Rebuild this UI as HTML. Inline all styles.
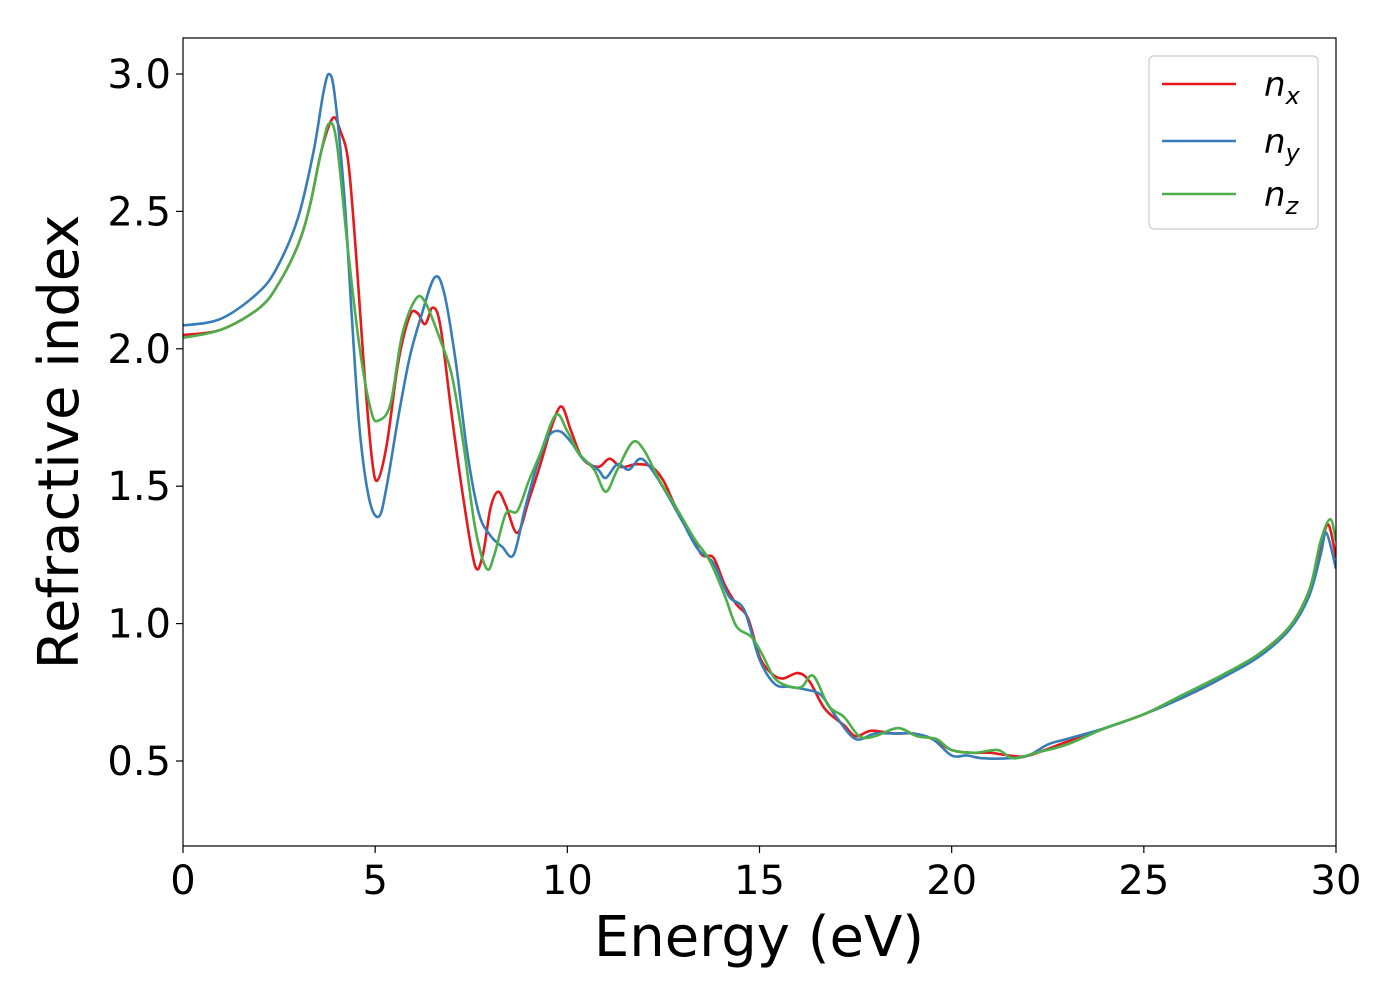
<!DOCTYPE html>
<html><head><meta charset="utf-8"><style>
body{margin:0;background:#fff;}
svg{display:block;font-family:"DejaVu Sans","Liberation Sans",sans-serif;}
</style></head><body>
<svg id="chart" width="1400" height="1000"></svg>
<script>
const seriesNames=["n_x","n_y","n_z"];
const colors=["#e41a1c","#377eb8","#4daf4a"];
const xTicks=[0,5,10,15,20,25,30];
const yTicks=[0.5,1.0,1.5,2.0,2.5,3.0];
const nxE=[0,1,2,2.5,3,3.3,3.6,3.9,4.1,4.3,4.5,4.7,4.9,5.05,5.3,5.6,5.9,6.1,6.3,6.5,6.7,7.0,7.3,7.6,7.8,8.0,8.2,8.4,8.7,9.0,9.3,9.6,9.85,10.1,10.4,10.8,11.1,11.4,11.8,12.2,12.5,12.8,13.2,13.5,13.8,14.1,14.4,14.7,15.0,15.3,15.6,16.0,16.3,16.7,17.2,17.5,17.9,18.5,19.0,19.5,20.0,20.5,21.0,21.5,22,23,24,25,26,27,28,28.8,29.3,29.6,29.8,30];
const nxV=[2.05,2.07,2.15,2.24,2.38,2.52,2.72,2.84,2.79,2.68,2.35,1.95,1.62,1.52,1.65,1.95,2.12,2.13,2.09,2.15,2.08,1.75,1.45,1.21,1.25,1.42,1.48,1.43,1.33,1.45,1.58,1.72,1.79,1.70,1.60,1.57,1.60,1.57,1.58,1.57,1.52,1.43,1.33,1.25,1.24,1.14,1.07,1.02,0.88,0.82,0.80,0.82,0.79,0.69,0.63,0.59,0.61,0.60,0.60,0.58,0.54,0.53,0.53,0.52,0.52,0.57,0.62,0.67,0.73,0.80,0.89,0.99,1.12,1.28,1.36,1.24];
const nyE=[0,1,2,2.5,3,3.4,3.65,3.8,3.95,4.2,4.4,4.6,4.85,5.1,5.3,5.6,5.9,6.2,6.55,6.8,7.1,7.4,7.7,8.0,8.3,8.6,8.9,9.2,9.5,9.8,10.1,10.4,10.8,11.0,11.3,11.6,11.9,12.2,12.6,13.0,13.4,13.8,14.2,14.6,15.0,15.4,15.8,16.2,16.6,17.0,17.5,18.0,18.5,19.0,19.5,20.0,20.4,20.8,21.5,22.0,22.5,23,24,25,26,27,28,28.8,29.3,29.6,29.75,30];
const nyV=[2.085,2.11,2.21,2.31,2.48,2.72,2.93,3.00,2.92,2.55,2.1,1.7,1.45,1.39,1.5,1.75,1.97,2.12,2.26,2.20,1.95,1.62,1.40,1.32,1.28,1.25,1.42,1.57,1.68,1.70,1.66,1.60,1.56,1.53,1.58,1.56,1.60,1.56,1.47,1.37,1.27,1.22,1.10,1.05,0.87,0.78,0.77,0.76,0.74,0.66,0.58,0.60,0.60,0.60,0.58,0.52,0.52,0.51,0.51,0.52,0.56,0.58,0.62,0.67,0.73,0.80,0.88,0.98,1.10,1.25,1.33,1.20];
const nzE=[0,1,2,2.5,3,3.3,3.6,3.8,4.0,4.3,4.6,4.9,5.1,5.4,5.7,6.05,6.3,6.7,7.0,7.3,7.6,7.9,8.1,8.4,8.7,9.0,9.3,9.7,10.0,10.3,10.7,11.0,11.3,11.7,12.0,12.4,12.8,13.3,13.7,14.1,14.4,14.8,15.1,15.4,15.8,16.1,16.4,16.8,17.2,17.6,18.0,18.6,19.1,19.6,20.0,20.6,21.2,21.6,22.2,23,24,25,26,27,28,28.8,29.3,29.6,29.85,30];
const nzV=[2.04,2.07,2.15,2.24,2.38,2.52,2.72,2.82,2.75,2.35,2.00,1.77,1.74,1.80,2.05,2.18,2.17,2.03,1.90,1.65,1.35,1.20,1.25,1.40,1.41,1.52,1.62,1.76,1.70,1.62,1.56,1.48,1.56,1.66,1.63,1.52,1.43,1.31,1.23,1.10,0.99,0.95,0.88,0.80,0.77,0.77,0.81,0.70,0.66,0.59,0.59,0.62,0.59,0.58,0.54,0.53,0.54,0.51,0.53,0.56,0.62,0.67,0.74,0.81,0.89,0.99,1.12,1.30,1.38,1.30];
const X0=183,X1=1336,Y0=38,Y1=846;
const xs=v=>X0+(v-0)/30*(X1-X0);
const ys=v=>74+(3.0-v)*274.8;
const NS="http://www.w3.org/2000/svg";
const svg=document.getElementById('chart');
function mk(t,a,p){const e=document.createElementNS(NS,t);for(const k in a)e.setAttribute(k,a[k]);(p||svg).appendChild(e);return e;}
function pathOf(E,V){const P=E.map((e,i)=>[xs(e),ys(V[i])]);let d=`M${P[0][0]},${P[0][1]}`;
for(let i=0;i<P.length-1;i++){const p0=P[Math.max(0,i-1)],p1=P[i],p2=P[i+1],p3=P[Math.min(P.length-1,i+2)];
const c1=[p1[0]+(p2[0]-p0[0])/6,p1[1]+(p2[1]-p0[1])/6],c2=[p2[0]-(p3[0]-p1[0])/6,p2[1]-(p3[1]-p1[1])/6];
d+=` C${c1[0]},${c1[1]} ${c2[0]},${c2[1]} ${p2[0]},${p2[1]}`;}return d;}
const clip=mk('clipPath',{id:'pc'});mk('rect',{x:X0,y:Y0,width:X1-X0,height:Y1-Y0},clip);
const data=[[nxE,nxV],[nyE,nyV],[nzE,nzV]];
const lineNames=['line-nx','line-ny','line-nz'];
data.forEach((d,i)=>{const p=mk('path',{d:pathOf(d[0],d[1]),fill:'none',stroke:colors[i],'stroke-width':2.6,'clip-path':'url(#pc)'});

});
const frame=mk('rect',{x:X0,y:Y0,width:X1-X0,height:Y1-Y0,fill:'none',stroke:'#000','stroke-width':1.2});


xTicks.forEach(t=>{mk('line',{x1:xs(t),x2:xs(t),y1:Y1,y2:Y1+7,stroke:'#000','stroke-width':1.2});
const tx=mk('text',{x:xs(t),y:Y1+48,'font-size':40,'text-anchor':'middle'});tx.textContent=t;

});
yTicks.forEach(t=>{mk('line',{x1:X0-7,x2:X0,y1:ys(t),y2:ys(t),stroke:'#000','stroke-width':1.2});
const tx=mk('text',{x:X0-12,y:ys(t)+14,'font-size':40,'text-anchor':'end'});tx.textContent=t.toFixed(1);

});
const xl=mk('text',{x:759,y:956,'font-size':56,'text-anchor':'middle'});xl.textContent='Energy (eV)';


const yl=mk('text',{x:0,y:0,'font-size':56,'text-anchor':'middle',transform:'translate(78,442) rotate(-90)'});yl.textContent='Refractive index';


const lg=mk('g',{});


mk('rect',{x:1149,y:56,width:169,height:173,rx:5,fill:'#fff',stroke:'#ccc','stroke-width':1.2},lg);
const subs=['x','y','z'];const ly=[84,141,194];
subs.forEach((s,i)=>{mk('line',{x1:1162,x2:1236,y1:ly[i],y2:ly[i],stroke:colors[i],'stroke-width':2.6},lg);
const t=mk('text',{x:1264,y:ly[i]+12,'font-size':34,'font-style':'italic'},lg);


t.innerHTML='n<tspan font-size="24" dy="8">'+s+'</tspan>';});
</script>
</body></html>
